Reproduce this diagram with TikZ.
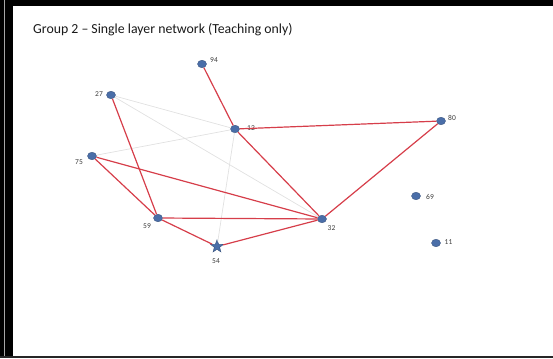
\documentclass[tikz,border=0pt]{standalone}
\usepackage{fontspec}
\setmainfont{Carlito}
\usetikzlibrary{shapes.geometric}
\definecolor{dotblue}{RGB}{74,110,168}
\definecolor{tiered}{RGB}{214,62,74}
\definecolor{tiegray}{RGB}{225,225,225}
\definecolor{labelgray}{RGB}{60,60,60}
\begin{document}
\begin{tikzpicture}[x=1pt,y=-1pt,
  dot/.style={ellipse,fill=dotblue,draw=dotblue!75!black,line width=0.4pt,minimum width=9pt,minimum height=7.5pt,inner sep=0pt},
  hub/.style={star,star points=5,star point ratio=2.4,fill=dotblue,draw=dotblue!75!black,line width=0.4pt,minimum size=13.5pt,inner sep=0pt},
  tie/.style={draw=tiered,line width=1.2pt},
  weak/.style={draw=tiegray,line width=0.7pt},
  lbl/.style={font=\fontsize{7.5}{8}\selectfont,text=labelgray,inner sep=0pt}]
\useasboundingbox (0,0) rectangle (553,358);
% frame
\fill[black] (0,0) rectangle (553,6);
\fill[black] (0,0) rectangle (13,358);
\draw[gray!70,line width=1.2pt] (4.5,0) -- (4.5,358);
\fill[black!85] (0,356) rectangle (553,358);
% title
\node[anchor=west,font=\fontsize{13.8}{15}\selectfont,text=black!90,inner sep=0pt] (title) at (33,30) {Group 2 – Single layer network (Teaching only)};
% actors
\node[dot] (n94) at (202,64) {};
\node[dot] (n27) at (111,95) {};
\node[dot] (n12) at (235,129) {};
\node[dot] (n80) at (441,121) {};
\node[dot] (n75) at (92,156) {};
\node[dot] (n69) at (416,196) {};
\node[dot] (n59) at (158,218) {};
\node[dot] (n32) at (322,219) {};
\node[hub] (n54) at (217,246.5) {};
\node[dot] (n11) at (436,243) {};
% labels
\node[lbl] (l94) at (214,60) {94};
\node[lbl] (l27) at (99,94) {27};
\node[lbl] (l12) at (251,128) {12};
\node[lbl] (l80) at (452,118) {80};
\node[lbl] (l75) at (79,162.5) {75};
\node[lbl] (l69) at (430,196.5) {69};
\node[lbl] (l59) at (147,226) {59};
\node[lbl] (l32) at (331.5,228) {32};
\node[lbl] (l54) at (216,261.5) {54};
\node[lbl] (l11) at (448.5,242) {11};
% weak ties
\draw[weak] (n27) -- (n12);
\draw[weak] (n27) -- (n32);
\draw[weak] (n75) -- (n12);
\draw[weak] (n12) -- (n54);
% teaching ties
\draw[tie] (n94) -- (n12);
\draw[tie] (n27) -- (n59);
\draw[tie] (n75) -- (n59);
\draw[tie] (n75) -- (n32);
\draw[tie] (n12) -- (n80);
\draw[tie] (n12) -- (n32);
\draw[tie] (n80) -- (n32);
\draw[tie] (n59) -- (n32);
\draw[tie] (n59) -- (n54);
\draw[tie] (n54) -- (n32);
\end{tikzpicture}
\end{document}
